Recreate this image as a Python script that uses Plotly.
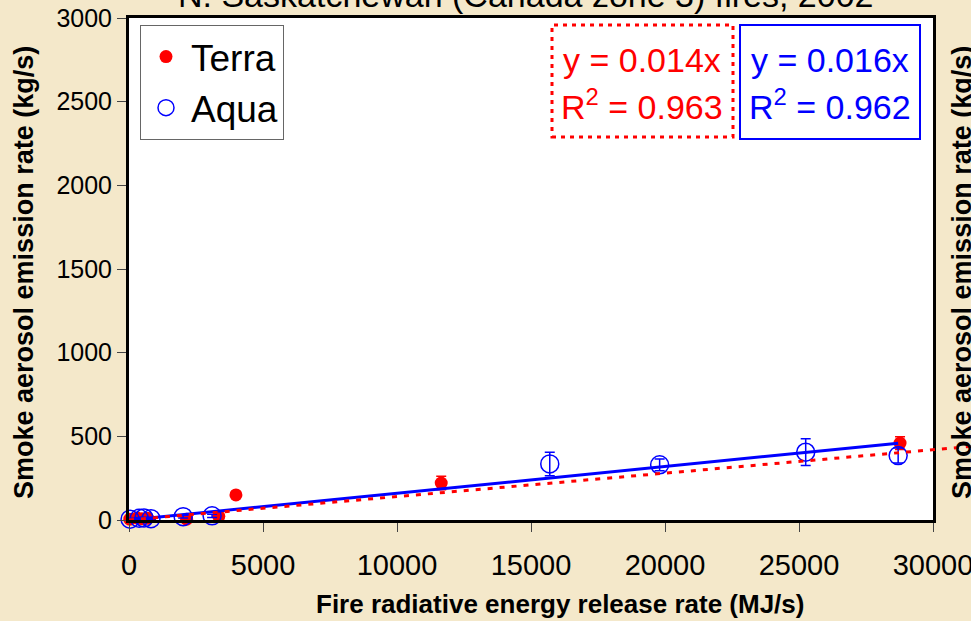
import plotly.graph_objects as go

# Terra (filled) and Aqua (open) retrievals: fire radiative energy vs smoke emission
terra_x = [30, 300, 480, 700, 2150, 3350, 3990, 11650, 28770]
terra_y = [5, 12, 8, 10, 5, 22, 150, 221, 460]
terra_err = [5, 5, 5, 5, 5, 8, 15, 40, 38]

aqua_x = [40, 380, 560, 820, 2020, 3100, 15700, 19800, 25250, 28700]
aqua_y = [5, 10, 12, 8, 20, 25, 335, 330, 405, 385]
aqua_err = [5, 5, 5, 5, 8, 10, 70, 35, 80, 45]

# Regression through the origin
terra_slope = 0.014
terra_r2 = 0.963
aqua_slope = 0.016
aqua_r2 = 0.962

x_ticks = [0, 5000, 10000, 15000, 20000, 25000, 30000]
y_ticks = [0, 500, 1000, 1500, 2000, 2500, 3000]

# Page geometry (pixels)
W, H = 971, 621
ML, MR, MT, MB = 129, 0, 18, 101
FRAME_RIGHT = 933
PAPER_W = W - ML - MR
PAPER_H = H - MT - MB
MAIN_FRAC = (FRAME_RIGHT - ML) / PAPER_W
X_MAX = x_ticks[-1]
Y_MAX = y_ticks[-1]
EXT_MAX = X_MAX / MAIN_FRAC  # full-width axis spanning into the right margin

BG = "#F4E8CA"
RED = "#FF0000"
BLUE = "#0000FF"
SANS = "Liberation Sans, Arial, sans-serif"


def px(xp):
    return (xp - ML) / PAPER_W


def py(yp):
    return (H - MB - yp) / PAPER_H


fig = go.Figure()

fig.add_trace(go.Scatter(
    x=terra_x, y=terra_y, mode="markers", name="Terra",
    marker=dict(color=RED, size=13),
    error_y=dict(type="data", array=terra_err, color=RED, thickness=1.5, width=5),
    cliponaxis=False,
))
fig.add_trace(go.Scatter(
    x=aqua_x, y=aqua_y, mode="markers", name="Aqua",
    marker=dict(symbol="circle-open", color=BLUE, size=18, line=dict(width=1.5, color=BLUE)),
    error_y=dict(type="data", array=aqua_err, color=BLUE, thickness=1.5, width=5),
    cliponaxis=False,
))

aqua_fit_x = [0, max(aqua_x)]
fig.add_trace(go.Scatter(
    x=aqua_fit_x, y=[aqua_slope * v for v in aqua_fit_x], mode="lines",
    line=dict(color=BLUE, width=3), showlegend=False, hoverinfo="skip",
))

terra_fit_x = [0, EXT_MAX]
fig.add_trace(go.Scatter(
    x=terra_fit_x, y=[terra_slope * v for v in terra_fit_x], mode="lines",
    line=dict(color=RED, width=3, dash="5px,7px"), showlegend=False,
    hoverinfo="skip", xaxis="x2", yaxis="y2",
))

axis_common = dict(
    showline=True, linecolor="black", linewidth=3, mirror=True,
    ticks="outside", ticklen=9, tickcolor="#444", tickwidth=1,
    showgrid=False, zeroline=False, automargin=False, ticklabeloverflow="allow",
)

fig.update_layout(
    width=W, height=H,
    margin=dict(l=ML, r=MR, t=MT, b=MB, pad=0, autoexpand=False),
    paper_bgcolor=BG,
    plot_bgcolor="rgba(0,0,0,0)",
    showlegend=True,
    xaxis=dict(
        range=[0, X_MAX], domain=[0, MAIN_FRAC],
        tickvals=x_ticks, ticktext=[str(v) for v in x_ticks], ticklabelstandoff=8,
        tickfont=dict(family=SANS, size=29, color="black"), **axis_common,
    ),
    yaxis=dict(
        range=[0, Y_MAX], domain=[0, 1],
        tickvals=y_ticks, ticktext=[str(v) for v in y_ticks],
        tickfont=dict(family=SANS, size=25, color="black"), **axis_common,
    ),
    xaxis2=dict(range=[0, EXT_MAX], domain=[0, 1], anchor="y2", visible=False),
    yaxis2=dict(range=[0, Y_MAX], domain=[0, 1], anchor="x2", visible=False),
    legend=dict(
        x=px(140), y=py(25), xanchor="left", yanchor="top",
        bgcolor="white", bordercolor="#666", borderwidth=1,
        font=dict(family=SANS, size=37, color="black"),
        itemsizing="trace", tracegroupgap=0, itemwidth=40,
    ),
    shapes=[
        dict(type="rect", xref="x domain", yref="y domain", x0=0, x1=1, y0=0, y1=1,
             fillcolor="white", line=dict(width=0), layer="below"),
        dict(type="rect", xref="paper", yref="paper",
             x0=px(552), x1=px(733), y0=py(137), y1=py(25),
             fillcolor="white", line=dict(color=RED, width=3, dash="4px,5px")),
        dict(type="rect", xref="paper", yref="paper",
             x0=px(740), x1=px(920), y0=py(139), y1=py(25),
             fillcolor="white", line=dict(color=BLUE, width=2)),
    ],
)

annotations = [
    dict(text="N. Saskatchewan (Canada zone 3) fires, 2002", x=px(526), y=py(-5),
         font=dict(family=SANS, size=34, color="black")),
    dict(text="Smoke aerosol emission rate (kg/s)", x=px(24), y=py(273), textangle=-90,
         font=dict(family=SANS, size=27, color="black", weight="bold")),
    dict(text="Smoke aerosol emission rate (kg/s)", x=px(962), y=py(273), textangle=-90,
         font=dict(family=SANS, size=27, color="black", weight="bold")),
    dict(text="Fire radiative energy release rate (MJ/s)", x=px(560), y=py(604),
         font=dict(family=SANS, size=26, color="black", weight="bold")),
    dict(text=f"y = {terra_slope:.3f}x", x=px(642), y=py(60),
         font=dict(family=SANS, size=34, color=RED)),
    dict(text=f"R<sup>2</sup> = {terra_r2:.3f}", x=px(642), y=py(105),
         font=dict(family=SANS, size=34, color=RED)),
    dict(text=f"y = {aqua_slope:.3f}x", x=px(830), y=py(60),
         font=dict(family=SANS, size=34, color=BLUE)),
    dict(text=f"R<sup>2</sup> = {aqua_r2:.3f}", x=px(830), y=py(105),
         font=dict(family=SANS, size=34, color=BLUE)),
]
for a in annotations:
    a.update(xref="paper", yref="paper", xanchor="center", yanchor="middle", showarrow=False)
fig.update_layout(annotations=annotations)

fig.write_html("out.html")
